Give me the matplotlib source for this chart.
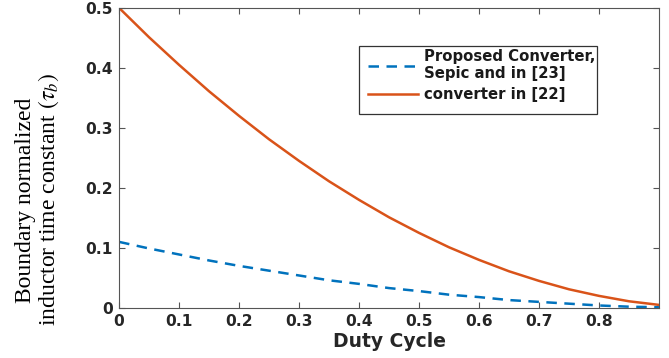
import numpy as np
import matplotlib.pyplot as plt
from matplotlib.patches import Rectangle

# =====================================
# DATA
# =====================================

duty = [0.00, 0.05, 0.10, 0.15, 0.20, 0.25, 0.30, 0.35, 0.40, 0.45,
        0.50, 0.55, 0.60, 0.65, 0.70, 0.75, 0.80, 0.85, 0.90]

# Proposed converter, Sepic and in [23]
tau_proposed = [0.110, 0.099, 0.089, 0.079, 0.070, 0.062, 0.054, 0.046, 0.040, 0.033,
                0.028, 0.022, 0.018, 0.013, 0.010, 0.007, 0.004, 0.002, 0.001]

# converter in [22]
tau_ref22 = [0.500, 0.451, 0.405, 0.361, 0.320, 0.281, 0.245, 0.211, 0.180, 0.151,
             0.125, 0.101, 0.080, 0.061, 0.045, 0.031, 0.020, 0.011, 0.005]

xticks = [0, 0.1, 0.2, 0.3, 0.4, 0.5, 0.6, 0.7, 0.8]
xticklabels = ["0", "0.1", "0.2", "0.3", "0.4", "0.5", "0.6", "0.7", "0.8"]
yticks = [0, 0.1, 0.2, 0.3, 0.4, 0.5]
yticklabels = ["0", "0.1", "0.2", "0.3", "0.4", "0.5"]

# =====================================
# PLOT
# =====================================

plt.rcParams['font.family'] = ['DejaVu Sans']
plt.rcParams['mathtext.fontset'] = 'stix'

fig = plt.figure(figsize=(6.69, 3.58), dpi=100)
ax = fig.add_axes([0.178, 0.140, 0.807, 0.838])

ax.plot(duty, tau_proposed, '--', color='#0072BD', linewidth=1.8,
        dashes=(4.2, 3), label="Proposed Converter,\nSepic and in [23]")
ax.plot(duty, tau_ref22, '-', color='#D95319', linewidth=1.8,
        label="converter in [22]")

ax.set_xlim(0, 0.9)
ax.set_ylim(0, 0.5)
ax.set_xticks(xticks)
ax.set_xticklabels(xticklabels)
ax.set_yticks(yticks)
ax.set_yticklabels(yticklabels)

ax.tick_params(direction='in', top=True, right=True, length=4, width=0.8,
               color='#555555', labelcolor='#262626', labelsize=11.2, pad=4.5)
for lab in ax.get_xticklabels() + ax.get_yticklabels():
    lab.set_fontweight('bold')
for sp in ax.spines.values():
    sp.set_color('#555555')
    sp.set_linewidth(0.8)

ax.set_xlabel("Duty Cycle", fontsize=13.5, fontweight='bold', color='#262626', labelpad=2)
ax.set_ylabel("Boundary normalized\ninductor time constant $(\\tau_b)$",
              family='Liberation Serif', fontsize=17, color='black', linespacing=1.0)
ax.yaxis.set_label_coords(-0.108, 0.36)

# legend box (drawn separately, it has extra room at the bottom)
box = Rectangle((0.5366, 0.6816), 0.3558, 0.19, transform=fig.transFigure,
                facecolor='white', edgecolor='#333333', linewidth=0.9,
                clip_on=False, zorder=4)
ax.add_patch(box)

leg = ax.legend(loc='upper left', bbox_to_anchor=(0.550, 0.864),
                bbox_transform=fig.transFigure, frameon=False,
                prop={'weight': 'bold', 'size': 10.7}, handlelength=3.4,
                handletextpad=0.4, borderpad=0, borderaxespad=0, labelspacing=0.4)
for t in leg.get_texts():
    t.set_color('#1a1a1a')
leg.set_zorder(5)

plt.savefig("out.png", dpi=100)
